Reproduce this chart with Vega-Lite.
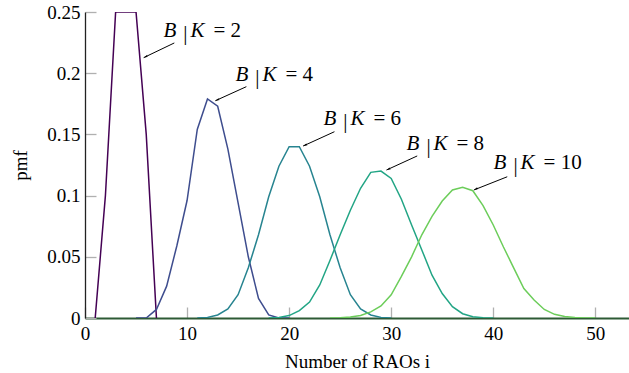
{
  "$schema": "https://vega.github.io/schema/vega-lite/v6.json",
  "width": 544,
  "height": 306,
  "autosize": {"type": "none"},
  "padding": {"left": 85, "top": 12, "right": 0, "bottom": 55},
  "background": "white",
  "config": {
    "view": {"stroke": null},
    "axis": {"grid": false, "labelFont": "Times New Roman, Liberation Serif, serif", "titleFont": "Times New Roman, Liberation Serif, serif", "labelColor": "#000", "titleColor": "#000", "titleFontWeight": "normal", "tickColor": "#b0b0b0", "tickWidth": 1.3, "tickSize": -11, "zindex": 1}
  },
  "datasets": {
    "curves": [
      {"series": "B|K = 2", "i": 1, "pmf": 0},
      {"series": "B|K = 2", "i": 2, "pmf": 0.1},
      {"series": "B|K = 2", "i": 3, "pmf": 0.25},
      {"series": "B|K = 2", "i": 4, "pmf": 0.25},
      {"series": "B|K = 2", "i": 5, "pmf": 0.25},
      {"series": "B|K = 2", "i": 6, "pmf": 0.15},
      {"series": "B|K = 2", "i": 7, "pmf": 0},
      {"series": "B|K = 4", "i": 5, "pmf": 0},
      {"series": "B|K = 4", "i": 6, "pmf": 0},
      {"series": "B|K = 4", "i": 7, "pmf": 0.007},
      {"series": "B|K = 4", "i": 8, "pmf": 0.026},
      {"series": "B|K = 4", "i": 9, "pmf": 0.059},
      {"series": "B|K = 4", "i": 10, "pmf": 0.096},
      {"series": "B|K = 4", "i": 11, "pmf": 0.154},
      {"series": "B|K = 4", "i": 12, "pmf": 0.179},
      {"series": "B|K = 4", "i": 13, "pmf": 0.173},
      {"series": "B|K = 4", "i": 14, "pmf": 0.138},
      {"series": "B|K = 4", "i": 15, "pmf": 0.094},
      {"series": "B|K = 4", "i": 16, "pmf": 0.05},
      {"series": "B|K = 4", "i": 17, "pmf": 0.016},
      {"series": "B|K = 4", "i": 18, "pmf": 0.0025},
      {"series": "B|K = 4", "i": 19, "pmf": 0},
      {"series": "B|K = 4", "i": 20, "pmf": 0},
      {"series": "B|K = 6", "i": 11, "pmf": 0},
      {"series": "B|K = 6", "i": 12, "pmf": 0.0005},
      {"series": "B|K = 6", "i": 13, "pmf": 0.0025},
      {"series": "B|K = 6", "i": 14, "pmf": 0.0074},
      {"series": "B|K = 6", "i": 15, "pmf": 0.019},
      {"series": "B|K = 6", "i": 16, "pmf": 0.041},
      {"series": "B|K = 6", "i": 17, "pmf": 0.068},
      {"series": "B|K = 6", "i": 18, "pmf": 0.099},
      {"series": "B|K = 6", "i": 19, "pmf": 0.124},
      {"series": "B|K = 6", "i": 20, "pmf": 0.14},
      {"series": "B|K = 6", "i": 21, "pmf": 0.14},
      {"series": "B|K = 6", "i": 22, "pmf": 0.124},
      {"series": "B|K = 6", "i": 23, "pmf": 0.099},
      {"series": "B|K = 6", "i": 24, "pmf": 0.068},
      {"series": "B|K = 6", "i": 25, "pmf": 0.041},
      {"series": "B|K = 6", "i": 26, "pmf": 0.019},
      {"series": "B|K = 6", "i": 27, "pmf": 0.0074},
      {"series": "B|K = 6", "i": 28, "pmf": 0.0025},
      {"series": "B|K = 6", "i": 29, "pmf": 0.0005},
      {"series": "B|K = 6", "i": 30, "pmf": 0},
      {"series": "B|K = 8", "i": 18, "pmf": 0},
      {"series": "B|K = 8", "i": 19, "pmf": 0.0005},
      {"series": "B|K = 8", "i": 20, "pmf": 0.002},
      {"series": "B|K = 8", "i": 21, "pmf": 0.006},
      {"series": "B|K = 8", "i": 22, "pmf": 0.013},
      {"series": "B|K = 8", "i": 23, "pmf": 0.027},
      {"series": "B|K = 8", "i": 24, "pmf": 0.047},
      {"series": "B|K = 8", "i": 25, "pmf": 0.068},
      {"series": "B|K = 8", "i": 26, "pmf": 0.088},
      {"series": "B|K = 8", "i": 27, "pmf": 0.106},
      {"series": "B|K = 8", "i": 28, "pmf": 0.119},
      {"series": "B|K = 8", "i": 29, "pmf": 0.120},
      {"series": "B|K = 8", "i": 30, "pmf": 0.114},
      {"series": "B|K = 8", "i": 31, "pmf": 0.097},
      {"series": "B|K = 8", "i": 32, "pmf": 0.076},
      {"series": "B|K = 8", "i": 33, "pmf": 0.0556},
      {"series": "B|K = 8", "i": 34, "pmf": 0.035},
      {"series": "B|K = 8", "i": 35, "pmf": 0.02},
      {"series": "B|K = 8", "i": 36, "pmf": 0.0093},
      {"series": "B|K = 8", "i": 37, "pmf": 0.0035},
      {"series": "B|K = 8", "i": 38, "pmf": 0.001},
      {"series": "B|K = 8", "i": 39, "pmf": 0.0003},
      {"series": "B|K = 8", "i": 40, "pmf": 0},
      {"series": "B|K = 10", "i": 24, "pmf": 0},
      {"series": "B|K = 10", "i": 25, "pmf": 0.0003},
      {"series": "B|K = 10", "i": 26, "pmf": 0.0008},
      {"series": "B|K = 10", "i": 27, "pmf": 0.002},
      {"series": "B|K = 10", "i": 28, "pmf": 0.005},
      {"series": "B|K = 10", "i": 29, "pmf": 0.0098},
      {"series": "B|K = 10", "i": 30, "pmf": 0.019},
      {"series": "B|K = 10", "i": 31, "pmf": 0.034},
      {"series": "B|K = 10", "i": 32, "pmf": 0.05},
      {"series": "B|K = 10", "i": 33, "pmf": 0.068},
      {"series": "B|K = 10", "i": 34, "pmf": 0.083},
      {"series": "B|K = 10", "i": 35, "pmf": 0.0956},
      {"series": "B|K = 10", "i": 36, "pmf": 0.1046},
      {"series": "B|K = 10", "i": 37, "pmf": 0.1068},
      {"series": "B|K = 10", "i": 38, "pmf": 0.104},
      {"series": "B|K = 10", "i": 39, "pmf": 0.0918},
      {"series": "B|K = 10", "i": 40, "pmf": 0.076},
      {"series": "B|K = 10", "i": 41, "pmf": 0.058},
      {"series": "B|K = 10", "i": 42, "pmf": 0.041},
      {"series": "B|K = 10", "i": 43, "pmf": 0.024},
      {"series": "B|K = 10", "i": 44, "pmf": 0.0147},
      {"series": "B|K = 10", "i": 45, "pmf": 0.007},
      {"series": "B|K = 10", "i": 46, "pmf": 0.003},
      {"series": "B|K = 10", "i": 47, "pmf": 0.0012},
      {"series": "B|K = 10", "i": 48, "pmf": 0.0004},
      {"series": "B|K = 10", "i": 49, "pmf": 0.0001},
      {"series": "B|K = 10", "i": 50, "pmf": 0}
    ],
    "notes": [
      {"b": "B", "bar": "|", "k": "K", "rest": "= 2", "tx": 7.68, "ty": 0.2296, "ax0": 8.75, "ay0": 0.2247, "ax1": 5.75, "ay1": 0.2127},
      {"b": "B", "bar": "|", "k": "K", "rest": "= 4", "tx": 14.74, "ty": 0.1939, "ax0": 15.81, "ay0": 0.189, "ax1": 12.77, "ay1": 0.1775},
      {"b": "B", "bar": "|", "k": "K", "rest": "= 6", "tx": 23.36, "ty": 0.1577, "ax0": 24.44, "ay0": 0.1522, "ax1": 21.37, "ay1": 0.1405},
      {"b": "B", "bar": "|", "k": "K", "rest": "= 8", "tx": 31.5, "ty": 0.1373, "ax0": 32.55, "ay0": 0.1324, "ax1": 29.54, "ay1": 0.1209},
      {"b": "B", "bar": "|", "k": "K", "rest": "= 10", "tx": 40.03, "ty": 0.1217, "ax0": 41.37, "ay0": 0.1154, "ax1": 38.1, "ay1": 0.1046}
    ]
  },
  "layer": [
    {
      "data": {"name": "curves"},
      "mark": {"type": "line", "strokeWidth": 1.5, "clip": true},
      "encoding": {
        "x": {"field": "i", "type": "quantitative", "scale": {"domain": [0, 53.3], "nice": false, "zero": false},
          "axis": {"values": [0, 10, 20, 30, 40, 50], "labelFontSize": 19, "labelPadding": 17, "domainColor": "#2d5a35", "domainWidth": 2, "title": "Number of RAOs i", "titleFontSize": 19, "titlePadding": 9, "labelFlush": false}},
        "y": {"field": "pmf", "type": "quantitative", "scale": {"domain": [0, 0.25], "nice": false},
          "axis": {"values": [0, 0.05, 0.1, 0.15, 0.2, 0.25], "format": ".2~f", "labelFontSize": 19, "labelPadding": 16, "domainColor": "#222", "domainWidth": 1.3, "title": "pmf", "titleFontSize": 19, "titlePadding": 16, "labelFlush": false}},
        "color": {"field": "series", "type": "nominal", "legend": null,
          "scale": {"domain": ["B|K = 2", "B|K = 4", "B|K = 6", "B|K = 8", "B|K = 10"], "range": ["#440154", "#3e4d8e", "#278490", "#22a585", "#6ccd5a"]}},
        "detail": {"field": "series"}
      }
    },
    {
      "data": {"name": "notes"},
      "mark": {"type": "rule", "color": "#000", "strokeWidth": 1},
      "encoding": {
        "x": {"field": "ax0", "type": "quantitative"},
        "y": {"field": "ay0", "type": "quantitative"},
        "x2": {"field": "ax1"},
        "y2": {"field": "ay1"}
      }
    },
    {
      "data": {"name": "notes"},
      "mark": {"type": "point", "shape": "M0,0L-0.55,2.2L0,1.7L0.55,2.2Z", "filled": true, "color": "#000", "opacity": 1, "size": 16, "angle": 245},
      "encoding": {
        "x": {"field": "ax1", "type": "quantitative"},
        "y": {"field": "ay1", "type": "quantitative"}
      }
    },
    {
      "data": {"name": "notes"},
      "mark": {"type": "text", "align": "left", "baseline": "alphabetic", "font": "Times New Roman, Liberation Serif, serif", "fontStyle": "italic", "fontSize": 21, "color": "#000"},
      "encoding": {
        "x": {"field": "tx", "type": "quantitative"},
        "y": {"field": "ty", "type": "quantitative"},
        "text": {"field": "b"}
      }
    },
    {
      "data": {"name": "notes"},
      "mark": {"type": "text", "align": "center", "baseline": "alphabetic", "font": "Times New Roman, Liberation Serif, serif", "fontSize": 21, "color": "#000", "dx": 22, "dy": 3},
      "encoding": {
        "x": {"field": "tx", "type": "quantitative"},
        "y": {"field": "ty", "type": "quantitative"},
        "text": {"field": "bar"}
      }
    },
    {
      "data": {"name": "notes"},
      "mark": {"type": "text", "align": "left", "baseline": "alphabetic", "font": "Times New Roman, Liberation Serif, serif", "fontStyle": "italic", "fontSize": 21, "color": "#000", "dx": 27},
      "encoding": {
        "x": {"field": "tx", "type": "quantitative"},
        "y": {"field": "ty", "type": "quantitative"},
        "text": {"field": "k"}
      }
    },
    {
      "data": {"name": "notes"},
      "mark": {"type": "text", "align": "left", "baseline": "alphabetic", "font": "Times New Roman, Liberation Serif, serif", "fontSize": 21, "color": "#000", "dx": 50},
      "encoding": {
        "x": {"field": "tx", "type": "quantitative"},
        "y": {"field": "ty", "type": "quantitative"},
        "text": {"field": "rest"}
      }
    }
  ]
}
